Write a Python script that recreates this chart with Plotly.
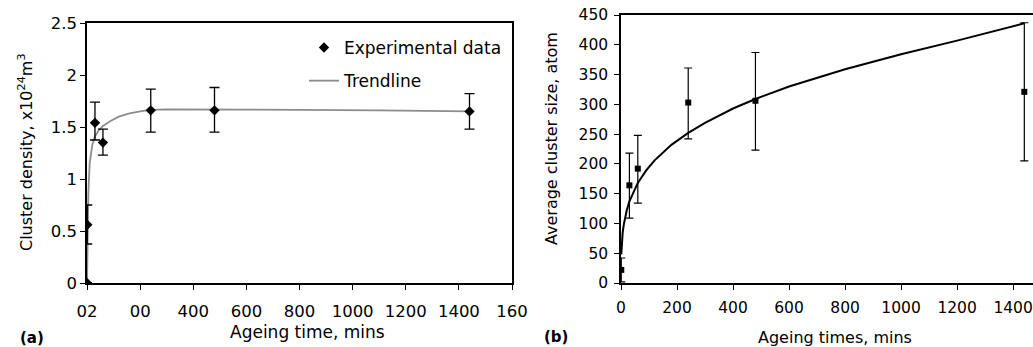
import plotly.graph_objects as go

W, H = 1033, 347

# ---------------- Panel (a) data ----------------
a_time = [0, 1, 30, 60, 240, 480, 1440]
a_density = [0.0, 0.56, 1.54, 1.35, 1.66, 1.66, 1.65]
a_err_plus = [0.0, 0.19, 0.20, 0.13, 0.205, 0.22, 0.17]
a_err_minus = [0.0, 0.185, 0.165, 0.12, 0.21, 0.21, 0.17]

a_trend_time = [0, 2, 5, 10, 20, 30, 45, 60, 90, 120, 160, 200, 240, 300, 480, 800, 1100, 1440]
a_trend_density = [0.0, 0.45, 0.85, 1.15, 1.33, 1.41, 1.47, 1.51, 1.56, 1.60, 1.63, 1.65, 1.665,
                   1.67, 1.67, 1.665, 1.66, 1.65]

a_tickvals = [0, 200, 400, 600, 800, 1000, 1200, 1400, 1600]
a_ticktext = ["02", "00", "400", "600", "800", "1000", "1200", "1400", "160"]
a_yticks = [0, 0.5, 1, 1.5, 2, 2.5]
a_yticktext = ["0", "0.5", "1", "1.5", "2", "2.5"]

# ---------------- Panel (b) data ----------------
b_time = [1, 30, 60, 240, 480, 1440]
b_size = [22, 164, 192, 303, 306, 321]
b_err_plus = [20, 54, 56, 58, 81, 116]
b_err_minus = [20, 55, 58, 61, 83, 116]

b_trend_time = [1, 3, 6, 10, 20, 30, 45, 60, 90, 120, 180, 240, 300, 400, 480, 600, 800, 1000, 1200, 1440]
b_trend_size = [48, 68, 85, 98, 121, 137, 154, 168, 189, 206, 232, 252, 269, 293, 309, 330, 359,
                384, 407, 436]

b_tickvals = [0, 200, 400, 600, 800, 1000, 1200, 1400]
b_yticks = [0, 50, 100, 150, 200, 250, 300, 350, 400, 450]


def px(x):
    return x / W


def py(y):
    return 1 - y / H


FONT = "DejaVu Sans"

fig = go.Figure()

fig.add_trace(go.Scatter(
    x=a_trend_time, y=a_trend_density, mode="lines", name="Trendline",
    line=dict(color="#8c8c8c", width=1.8), xaxis="x", yaxis="y",
    legendgroup="g2", legendrank=2))
fig.add_trace(go.Scatter(
    x=a_time, y=a_density, mode="markers", name="Experimental data",
    marker=dict(symbol="diamond", size=8, color="black"),
    error_y=dict(type="data", symmetric=False, array=a_err_plus, arrayminus=a_err_minus,
                 color="black", thickness=1.3, width=5),
    xaxis="x", yaxis="y", legendgroup="g1", legendrank=1))

fig.add_trace(go.Scatter(
    x=b_trend_time, y=b_trend_size, mode="lines", showlegend=False,
    line=dict(color="black", width=2), xaxis="x2", yaxis="y2"))
fig.add_trace(go.Scatter(
    x=b_time, y=b_size, mode="markers", showlegend=False,
    marker=dict(symbol="square", size=6, color="black"),
    error_y=dict(type="data", symmetric=False, array=b_err_plus, arrayminus=b_err_minus,
                 color="black", thickness=1.2, width=4),
    xaxis="x2", yaxis="y2"))

axis_common = dict(showline=True, linecolor="black", linewidth=1.5, ticks="outside",
                   ticklen=5, tickcolor="black", tickwidth=1.3, showgrid=False,
                   zeroline=False, color="black", automargin=False)

fig.update_layout(
    template="none",
    width=W, height=H,
    margin=dict(l=0, r=0, t=0, b=0, pad=0),
    paper_bgcolor="white", plot_bgcolor="white",
    font=dict(family=FONT, color="black", size=16),
    xaxis=dict(domain=[px(87), px(512)], range=[0, 1600], tickvals=a_tickvals,
               ticktext=a_ticktext, mirror=True, anchor="y",
               tickfont=dict(size=16.5), ticklabelstandoff=7, **axis_common),
    yaxis=dict(domain=[py(283), py(23)], range=[0, 2.5], tickvals=a_yticks,
               ticktext=a_yticktext, mirror=True, anchor="x",
               tickfont=dict(size=16.5), ticklabelstandoff=0, **axis_common),
    xaxis2=dict(domain=[px(621), 1], range=[0, 1471], tickvals=b_tickvals,
                mirror=True, anchor="y2", tickfont=dict(size=15.5),
                ticklabelstandoff=5, **axis_common),
    yaxis2=dict(domain=[py(283), py(15)], range=[0, 450], tickvals=b_yticks,
                mirror=False, anchor="x2", tickfont=dict(size=15.5),
                ticklabelstandoff=3, **axis_common),
    legend=dict(x=px(304), y=py(30), xanchor="left", yanchor="top",
                bgcolor="rgba(0,0,0,0)", font=dict(size=17, family=FONT),
                traceorder="grouped", tracegroupgap=8),
    showlegend=True,
)

annots = [
    dict(x=px(25), y=py(152), text="Cluster density, x10<sup>24</sup>m<sup>3</sup>",
         textangle=-90, font=dict(size=16)),
    dict(x=px(552), y=py(139), text="Average cluster size, atom", textangle=-90,
         font=dict(size=16)),
    dict(x=px(307), y=py(332), text="Ageing time, mins", font=dict(size=17)),
    dict(x=px(835), y=py(337), text="Ageing times, mins", font=dict(size=16)),
    dict(x=px(32), y=py(338), text="<b>(a)</b>", font=dict(size=15)),
    dict(x=px(556), y=py(337), text="<b>(b)</b>", font=dict(size=15)),
]
for a in annots:
    fig.add_annotation(xref="paper", yref="paper", showarrow=False,
                       xanchor="center", yanchor="middle", **a)

fig.write_html("out.html")
